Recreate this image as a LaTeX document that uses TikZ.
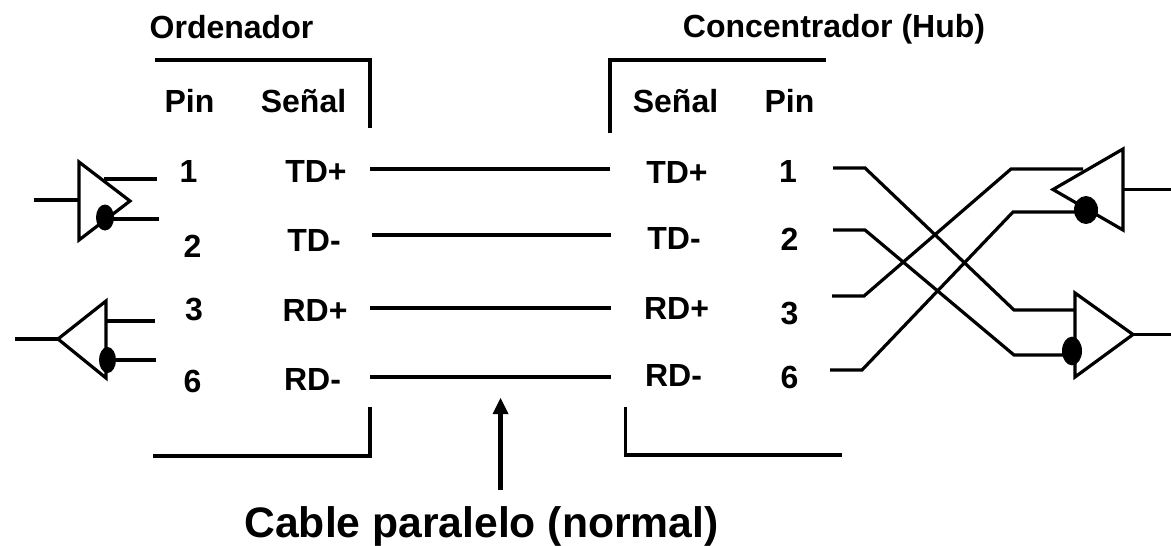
\documentclass[tikz,border=0pt]{standalone}
\usepackage{fontspec}
\usetikzlibrary{shapes.geometric}
\setmainfont{Liberation Sans}
\begin{document}
\begin{tikzpicture}[x=0.75pt,y=-0.75pt,
  wire/.style={draw=black,line width=2.8pt,line cap=butt,line join=miter},
  drv/.style={draw=black,line width=2.4pt,line join=miter},
  lab/.style={font=\bfseries\fontsize{24pt}{26pt}\selectfont,inner sep=0pt,text=black,anchor=base},
  big/.style={font=\bfseries\fontsize{32pt}{35pt}\selectfont,inner sep=0pt,text=black,anchor=base},
  dotmark/.style={fill=black,draw=none,shape=ellipse,inner sep=0pt}]
\useasboundingbox (0,0) rectangle (1171,546);
\fill[white] (0,0) rectangle (1171,546);
% headers
\node[lab] (ord) at (231.5,38) {Ordenador};
\node[lab] (hub) at (834,37) {Concentrador (Hub)};
\node[lab] (p1) at (189.5,112) {Pin};
\node[lab] (s1) at (303.5,112) {Señal};
\node[lab] (s2) at (675.5,112) {Señal};
\node[lab] (p2) at (789.5,112) {Pin};
% left column
\node[lab] (l1) at (188.5,182) {1};
\node[lab] (l2) at (192.5,257) {2};
\node[lab] (l3) at (194,320) {3};
\node[lab] (l6) at (192.5,392) {6};
\node[lab] (ltp) at (316,182) {TD+};
\node[lab] (ltm) at (314,251) {TD-};
\node[lab] (lrp) at (315,321) {RD+};
\node[lab] (lrm) at (312.5,390) {RD-};
% right column
\node[lab] (rtp) at (677,183) {TD+};
\node[lab] (rtm) at (674,249) {TD-};
\node[lab] (rrp) at (676.5,319) {RD+};
\node[lab] (rrm) at (673.5,386) {RD-};
\node[lab] (r1) at (788,182) {1};
\node[lab] (r2) at (789.5,250) {2};
\node[lab] (r3) at (789.5,324) {3};
\node[lab] (r6) at (789.5,388) {6};
\node[big] (cap) at (481.5,537) {Cable paralelo (normal)};
% brackets
\draw[wire] (155,60) -- (370,60) -- (370,128);
\draw[wire] (826,60) -- (610,60) -- (610,133);
\draw[wire] (370,407) -- (370,456) -- (153,456);
\draw[wire] (625.5,407) -- (625.5,455) -- (842,455);
% straight cable
\coordinate (a1) at (370,169); \coordinate (b1) at (610,169);
\coordinate (a2) at (372,235); \coordinate (b2) at (611,235);
\coordinate (a3) at (370,308); \coordinate (b3) at (611,308);
\coordinate (a4) at (370,377); \coordinate (b4) at (611,377);
\draw[wire] (a1) -- (b1);
\draw[wire] (a2) -- (b2);
\draw[wire] (a3) -- (b3);
\draw[wire] (a4) -- (b4);
% arrow
\coordinate (arB) at (500.5,490); \coordinate (arT) at (500.5,398);
\draw[wire,line width=3.6pt] (arB) -- (500.5,412);
\fill (arT) -- (508.5,414) -- (492.5,414) -- cycle;
% left top driver
\draw[drv] (79,162) -- (130,201) -- (79,240) -- cycle;
\draw[drv] (34,200) -- (79,200);
\draw[drv] (104,179) -- (157,179);
\draw[drv] (105,219) -- (159,219);
\node[dotmark,minimum width=13.5pt,minimum height=19.5pt] (d1) at (105,217.5) {};
% left bottom driver
\draw[drv] (106,301) -- (58,339) -- (106,378) -- cycle;
\draw[drv] (15,339) -- (58,339);
\draw[drv] (106,321) -- (155,321);
\draw[drv] (108,360) -- (156,360);
\node[dotmark,minimum width=12.75pt,minimum height=19.5pt] (d2) at (107.5,360) {};
% right crossover
\draw[drv] (833,168) -- (865,168) -- (1014,310) -- (1075,310);
\draw[drv] (833,230) -- (865,230) -- (1014,355) -- (1066,355);
\draw[drv] (832,296) -- (864,296) -- (1011,169) -- (1083,169);
\draw[drv] (830,370) -- (862,370) -- (1013,212) -- (1080,212);
% right top driver
\draw[drv] (1123,149) -- (1053,189.5) -- (1123,230) -- cycle;
\draw[drv] (1123,189.5) -- (1171,189.5);
\node[dotmark,minimum width=18pt,minimum height=21pt] (d3) at (1086,210) {};
% right bottom driver
\draw[drv] (1075,293) -- (1133,334.5) -- (1075,377) -- cycle;
\draw[drv] (1133,334.5) -- (1171,334.5);
\node[dotmark,minimum width=15pt,minimum height=21.5pt] (d4) at (1072,351) {};
\end{tikzpicture}
\end{document}
